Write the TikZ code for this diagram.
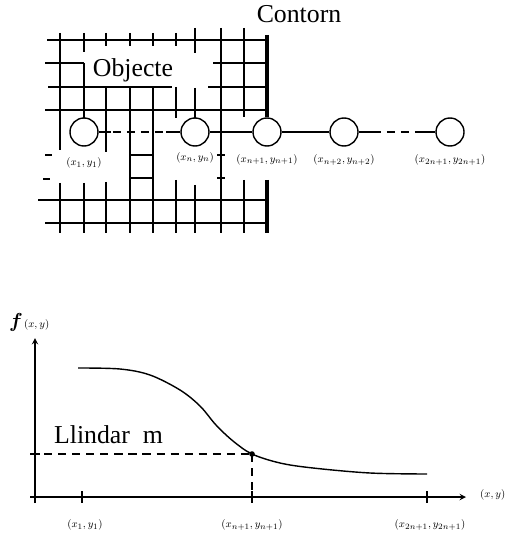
\documentclass[tikz,border=0pt]{standalone}
\usepackage{amsmath,amssymb}
\usepackage{fontspec}
\setmainfont{Liberation Serif}
\usepackage{tikz}
\usetikzlibrary{positioning,arrows,calc}

\begin{document}
\begin{tikzpicture}[
    x=0.03cm, y=-0.03cm,
    grid/.style={line width=1.1pt},
    contour/.style={line width=2.8pt},
    pixel/.style={circle,draw,line width=1.2pt,minimum size=0.84cm,inner sep=0pt},
    link/.style={line width=1.2pt},
    gap/.style={line width=1.2pt,dash pattern=on 7pt off 5pt},
    lbl/.style={font=\fontsize{9.5}{11}\selectfont},
    big/.style={font=\fontsize{22}{24}\selectfont},
    axis/.style={line width=1.4pt,->,>=stealth,shorten >=0pt},
    level/.style={line width=1.1pt,dash pattern=on 7pt off 5pt}
]
\useasboundingbox (0,0) rectangle (512,542);

% grid of the object
\draw[grid] (47,40) -- (267,40);
\draw[grid] (45,63) -- (84,63) (213,63) -- (267,63);
\draw[grid] (48,87) -- (172,87) (208,87) -- (267,87);
\draw[grid] (45,110) -- (267,110);
\draw[grid] (45,155) -- (52,155) (43,179) -- (50,179);
\draw[grid] (130,155) -- (153,155) (130,178) -- (153,178);
\draw[grid] (38,200) -- (267,200);
\draw[grid] (45,223) -- (267,223);
\foreach \x in {106,130,153,176}
  \draw[grid] (\x,33) -- (\x,46);
\draw[grid] (60,33) -- (60,150) (60,183) -- (60,233);
\draw[grid] (84,33) -- (84,52) (84,63) -- (84,118) (84,183) -- (84,233);
\draw[grid] (106,87) -- (106,152) (106,182) -- (106,233);
\draw[grid] (130,87) -- (130,233);
\draw[grid] (153,87) -- (153,233);
\draw[grid] (176,87) -- (176,118) (176,180) -- (176,233);
\draw[grid] (195,28) -- (195,53) (195,88) -- (195,118) (195,185) -- (195,233);
\draw[grid] (221,28) -- (221,233) (217,155) -- (225,155) (217,178) -- (225,178);
\draw[grid] (244,28) -- (244,117) (244,180) -- (244,233);
\draw[contour] (267,35) -- (267,117) (267,180) -- (267,233);

\node[big] (objecte) at (133,70) {Objecte};
\node[big] (contorn) at (299,14) {Contorn};

\node[pixel] (p1) at (84,132) {};
\node[pixel] (pn) at (195,132) {};
\node[pixel] (pn1) at (267,132) {};
\node[pixel] (pn2) at (344,132) {};
\node[pixel] (p2n1) at (450,132) {};

\draw[gap] (p1.east) -- (pn.west);
\draw[link] (p1.east) -- +(12,0);
\draw[link] (pn.west) -- +(-14,0);
\draw[link] (pn) -- (pn1);
\draw[link] (pn1) -- (pn2);
\draw[gap] (pn2.east) -- (p2n1.west);
\draw[link] (pn2.east) -- +(14,0);
\draw[link] (p2n1.west) -- +(-13,0);

\node[lbl, below=0.2cm of p1] {$(x_1,y_1)$};
\node[lbl, below=0.05cm of pn] {$(x_n,y_n)$};
\node[lbl, below=0.1cm of pn1] {$(x_{n+1},y_{n+1})$};
\node[lbl, below=0.12cm of pn2] {$(x_{n+2},y_{n+2})$};
\node[lbl, below=0.12cm of p2n1] {$(x_{2n+1},y_{2n+1})$};

% profile along the line
\coordinate (origin) at (35,497);
\coordinate (ytop) at (35,338);
\coordinate (xend) at (466,497);
\coordinate (cross) at (252,454);
\draw[axis] (35,503) -- (ytop);
\draw[axis] (30,497) -- (xend);
\foreach \x in {82,252,427}
  \draw[grid] (\x,491) -- (\x,503);
\draw[grid] (30,454) -- (40,454);

\draw[line width=1.2pt] plot[smooth, tension=0.55] coordinates {
  (78,368) (120,369) (150,375) (180,390) (200,406) (216,425)
  (233,441) (252,454) (280,463) (313,468) (370,473) (427,474)};
\draw[level] (30,454) -- (cross);
\draw[level] (cross) -- (252,497);
\fill (cross) circle (2.4pt);

\node[big, anchor=base west] (llindar) at (50,443) {Llindar\ \ m};
\node[anchor=west, inner sep=0pt] (fxy) at (9,322)
  {\fontsize{16}{18}\selectfont$\boldsymbol{f}$\kern1pt{\fontsize{9.5}{11}\selectfont$(x,y)$}};
\node[lbl, anchor=west] (xy) at (476,495) {$(x,y)$};

\node[lbl] (t1) at (85,525) {$(x_1,y_1)$};
\node[lbl] (tn1) at (252,525) {$(x_{n+1},y_{n+1})$};
\node[lbl] (t2n1) at (430,525) {$(x_{2n+1},y_{2n+1})$};
\end{tikzpicture}
\end{document}
